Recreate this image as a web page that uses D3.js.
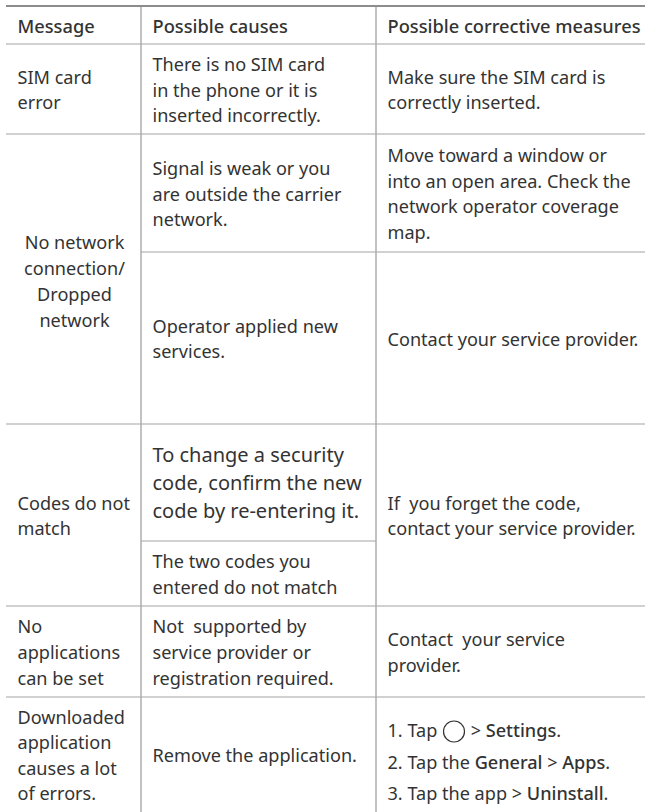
<!DOCTYPE html>
<html>
<head>
<meta charset="utf-8">
<script src="https://cdnjs.cloudflare.com/ajax/libs/d3/7.8.5/d3.min.js"></script>
<style>
	html, body { margin: 0; padding: 0; background: #fff; }
	svg { display: block; }
	text { font-family: "Noto Sans", sans-serif; fill: #333; white-space: pre; }
</style>
</head>
<body>
<div id="chart"></div>
<script>
// table content
const headers = ["Message", "Possible causes", "Possible corrective measures"];
const messages = [
	["SIM card", "error"],
	["No network", "connection/", "Dropped", "network"],
	["Codes do not", "match"],
	["No", "applications", "can be set"],
	["Downloaded", "application", "causes a lot", "of errors."]
];
const causes = [
	["There is no SIM card", "in the phone or it is", "inserted incorrectly."],
	["Signal is weak or you", "are outside the carrier", "network."],
	["Operator applied new", "services."],
	["To change a security", "code, confirm the new", "code by re-entering it."],
	["The two codes you", "entered do not match"],
	["Not  supported by", "service provider or", "registration required."],
	["Remove the application."]
];
const measures = [
	["Make sure the SIM card is", "correctly inserted."],
	["Move toward a window or", "into an open area. Check the", "network operator coverage", "map."],
	["Contact your service provider."],
	["If  you forget the code,", "contact your service provider."],
	["Contact  your service", "provider."]
];
// last cell has bold words and the home button icon
const steps = [
	[["1. Tap ", 400], ["icon"], [" > ", 400], ["Settings", 500], [".", 400]],
	[["2. Tap the ", 400], ["General", 500], [" > ", 400], ["Apps", 500], [".", 400]],
	[["3. Tap the app ", 400], ["> ", 400], ["Uninstall", 500], [".", 400]]
];

// which rows each cell covers (row edges index)
const rowEdges = [44, 134, 252, 424, 541, 606, 697, 812];
const messageSpans = [[0, 1], [1, 3], [3, 5], [5, 6], [6, 7]];
const causeSpans = [[0, 1], [1, 2], [2, 3], [3, 4], [4, 5], [5, 6], [6, 7]];
const measureSpans = [[0, 1], [1, 2], [2, 3], [3, 5], [5, 6]];

const width = 645, height = 812;
const font_size = 18.1;
const line_height = 25.6;
const col_x = [6, 141, 376, 645];
const pad = 11.5;

const svg = d3.select("#chart")
	.append("svg")
	.attr("width", width)
	.attr("height", height);

// horizontal rules
function h_line(y, x1, x2, w, color) {
	svg.append("line")
		.attr("x1", x1).attr("x2", x2)
		.attr("y1", y).attr("y2", y)
		.attr("stroke", color).attr("stroke-width", w);
}
h_line(6, col_x[0], width, 2, "#8c8c8c");
rowEdges.slice(0, -1).forEach((y, i) => {
	// edges 2 and 4 do not cross the message column, edge 4 stops at the last column
	let x1 = (i === 2 || i === 4) ? col_x[1] : col_x[0];
	let x2 = (i === 4) ? col_x[2] : width;
	h_line(y, x1, x2, 1.2, "#a3a3a3");
});

// vertical rules
[col_x[1], col_x[2]].forEach(x => {
	svg.append("line")
		.attr("x1", x).attr("x2", x)
		.attr("y1", 7).attr("y2", height)
		.attr("stroke", "#a8a8a8").attr("stroke-width", 1.4);
});

// header row
svg.selectAll(".head")
	.data(headers)
	.enter()
	.append("text")
	.attr("class", "head")
	.attr("x", (d, i) => col_x[i] + pad)
	.attr("y", 32.5)
	.attr("font-size", 18.25)
	.attr("font-weight", 500)
	.text(d => d);

function draw_cell(lines, span, col, opts) {
	opts = opts || {};
	let size = opts.size || font_size;
	let lh = opts.lh || line_height;
	let mid = (rowEdges[span[0]] + rowEdges[span[1]]) / 2;
	let first = mid + (opts.shift || 7.5) - (lines.length - 1) * lh / 2;
	let center = opts.center;
	svg.append("g")
		.selectAll("text")
		.data(lines)
		.enter()
		.append("text")
		.attr("x", center ? (col_x[col] + col_x[col + 1]) / 2 + 1 : col_x[col] + pad)
		.attr("y", (d, i) => first + i * lh)
		.attr("text-anchor", center ? "middle" : "start")
		.attr("font-size", size)
		.text(d => d);
}

messages.forEach((lines, i) => {
	draw_cell(lines, messageSpans[i], 0, i === 1 ? {center: true, lh: 26, shift: 8.5} : {});
});
causes.forEach((lines, i) => {
	draw_cell(lines, causeSpans[i], 1, i === 3 ? {size: 20, lh: 28, shift: 7} : {});
});
measures.forEach((lines, i) => draw_cell(lines, measureSpans[i], 2));

// numbered steps, segments placed one after the other
steps.forEach((segs, i) => {
	let x = col_x[2] + pad;
	let y = 737 + i * 31.5;
	segs.forEach(seg => {
		if (seg[0] === "icon") {
			svg.append("circle")
				.attr("cx", x + 12).attr("cy", y - 5.5).attr("r", 10.5)
				.attr("fill", "none").attr("stroke", "#333").attr("stroke-width", 1.2);
			x += 24;
			return;
		}
		let t = svg.append("text")
			.attr("x", x).attr("y", y)
			.attr("font-size", font_size)
			.attr("font-weight", seg[1])
			.text(seg[0]);
		x += t.node().getComputedTextLength();
	});
});
</script>
</body>
</html>
